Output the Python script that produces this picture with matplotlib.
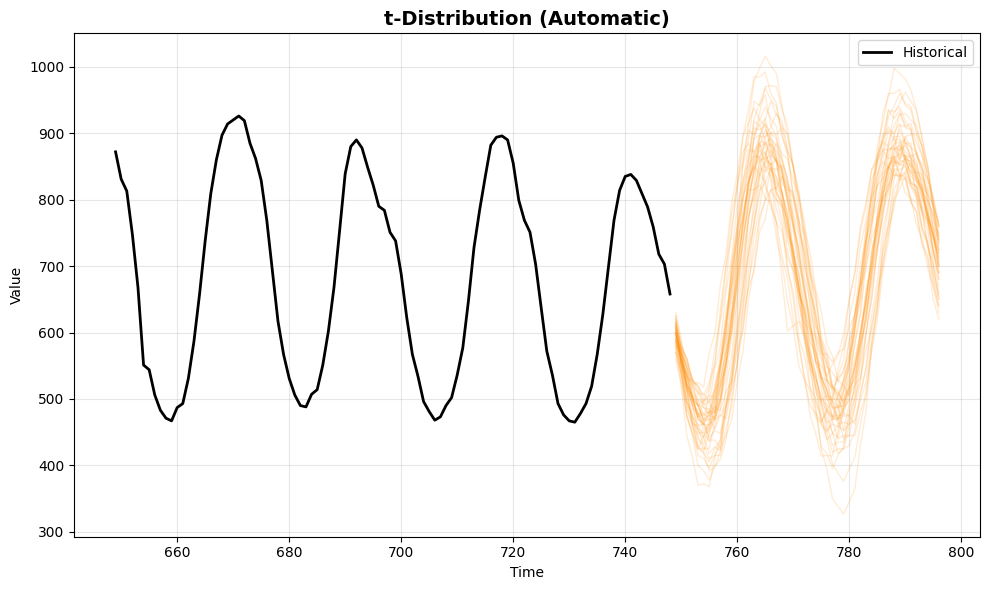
import numpy as np
import matplotlib
matplotlib.use("Agg")
import matplotlib.pyplot as plt

hist_start = 649
hist_values = [
    872, 831, 813, 748, 668, 551, 544, 506, 483, 471, 467,
    487, 493, 531, 587, 658, 738, 809, 860, 897, 914,
    920, 926, 919, 885, 862, 829, 769, 693, 617, 567,
    531, 506, 490, 488, 507, 514, 551, 602, 668, 753,
    839, 880, 890, 878, 849, 822, 790, 784, 751, 738,
    688, 622, 567, 534, 496, 481, 468, 473, 490, 502,
    536, 577, 647, 728, 784, 834, 882, 894, 896, 890,
    855, 799, 769, 751, 703, 637, 572, 536, 493, 476,
    467, 465, 478, 493, 519, 567, 627, 698, 769, 814,
    835, 838, 829, 809, 789, 759, 718, 703, 658,
]

forecast_start = 749
sample_paths = [
    [600,564,532,499,480,462,461,470,500,552,606,676, 733,799,840,880,884,883,858,836,798,760,706,664,
     610,572,534,512,487,487,491,519,547,600,648,707, 755,808,836,864,868,867,851,838,806,783,744,714],
    [615,552,512,458,445,422,448,475,548,602,700,758, 850,890,948,942,958,912,895,838,800,722,685,602,
     568,510,495,452,462,458,500,528,605,650,740,785, 862,890,935,922,935,908,905,865,852,798,778,730],
    [580,545,496,470,430,418,392,398,410,438,500,552, 635,690,768,808,858,852,862,825,812,760,725,660,
     620,555,518,470,450,418,425,430,452,505,548,625, 676,755,795,850,862,885,868,858,818,785,725,680],
    [620,575,515,496,472,495,518,575,622,700,748,825, 855,905,898,912,890,860,812,785,722,690,622,598,
     545,532,498,505,502,535,560,620,662,730,770,830, 852,888,880,895,862,866,825,808,758,738,678,640],
    [595,568,552,520,510,486,485,468,476,470,515,550, 622,668,745,788,845,865,885,868,862,828,808,755,
     722,665,632,582,565,528,520,505,522,532,575,605, 662,700,758,788,830,840,855,842,838,808,792,760],
    [610,555,520,472,462,442,468,490,552,605,702,765, 858,912,978,998,1016,1002,990,940,895,848,768,718,
     638,592,532,512,470,468,488,498,552,585,662,705, 782,820,872,882,905,885,885,842,830,776,750,700],
    [590,552,535,498,490,468,475,472,518,548,622,668, 745,788,845,865,885,868,858,810,782,718,670,598,
     548,488,425,395,350,338,327,345,365,430,482,578, 640,735,788,852,872,895,878,872,835,812,758,720],
    [605,560,535,492,480,452,462,475,500,568,618,708, 758,828,852,875,860,855,812,795,738,705,645,612,
     555,538,498,492,472,492,508,565,598,680,732,815, 860,930,955,998,990,982,965,935,895,850,790,740],
    [575,518,445,412,370,372,368,412,440,518,565,652, 700,775,805,848,842,855,818,808,755,728,665,632,
     570,540,495,482,448,460,452,492,512,578,618,692, 735,798,820,858,852,862,835,828,788,770,722,690],
    [625,580,555,522,525,518,570,598,672,718,795,838, 895,915,938,920,912,872,855,798,765,705,672,615,
     598,556,550,535,552,565,598,650,688,752,790,845, 865,898,902,890,890,858,850,802,782,728,700,650],
    [585,568,532,528,498,495,478,488,482,512,525,575, 602,668,692,752,770,815,818,835,815,812,768,748,
     690,658,592,572,518,502,478,475,462,510,545,610, 652,725,762,815,835,858,842,840,812,798,760,740],
    [600,560,538,502,490,470,476,480,528,572,652,718, 798,842,892,898,880,830,760,680,602,610,617,590,
     560,530,505,485,474,470,485,498,548,585,652,698, 768,805,852,868,885,872,865,835,818,770,745,700],
    [608,550,515,465,455,432,458,482,548,598,690,742, 828,862,918,912,922,885,865,810,775,698,660,585,
     550,495,475,438,448,442,485,512,585,632,718,765, 838,862,905,900,915,885,880,838,820,765,740,690],
    [592,560,512,490,452,442,418,428,422,478,522,610, 672,768,822,895,922,948,928,918,875,852,790,752,
     688,648,585,565,518,512,492,518,528,582,628,680, 752,800,862,895,928,930,920,912,878,850,798,760],
    [615,580,562,528,520,498,505,502,552,590,668,722, 808,855,922,945,968,950,940,895,872,808,770,700,
     660,598,575,530,520,505,522,548,608,655,732,782, 858,890,935,932,940,918,908,872,850,800,775,725],
    [570,535,485,462,425,420,405,425,438,490,528,602, 648,722,760,815,825,848,825,812,758,718,645,598,
     520,485,428,418,395,415,428,482,520,598,642,722, 755,812,822,845,830,832,802,795,752,735,690,660],
    [630,592,540,522,490,498,495,545,580,662,712,792, 825,875,872,885,848,835,785,758,692,662,592,565,
     515,502,465,482,470,508,528,590,628,702,738,802, 822,858,848,862,835,838,798,782,730,712,650,620],
    [600,568,522,502,468,462,452,470,495,552,600,680, 732,805,842,888,885,892,860,842,798,765,705,670,
     608,575,532,515,485,490,488,522,548,605,650,718, 760,818,845,878,875,882,862,855,822,808,770,745],
    [585,560,520,505,470,465,442,452,448,488,518,585, 635,715,765,835,862,902,898,908,872,852,802,768,
     700,660,590,555,508,488,452,462,468,498,525,590, 640,718,765,830,858,895,898,898,865,842,785,745],
    [612,575,522,502,472,478,472,515,548,612,660,730, 772,828,848,865,850,845,810,795,745,718,662,635,
     585,570,532,528,515,532,540,585,612,672,708,768, 795,840,848,865,852,852,825,820,782,768,725,700],
    [598,572,535,518,490,488,476,498,522,585,632,716, 780,818,865,865,872,845,835,792,770,715,688,630,
     602,556,538,503,498,486,502,516,560,596,662,704, 770,805,850,862,880,866,862,832,815,772,748,705],
    [620,552,508,462,460,462,512,555,636,700,780,822, 872,885,870,860,820,800,742,706,645,608,550,528,
     490,478,465,484,498,545,580,648,692,760,796,845, 858,875,862,865,838,832,796,782,736,716,670,640],
    [588,555,538,505,492,468,470,455,475,492,545,590, 668,718,798,840,895,910,930,910,898,848,815,746,
     700,625,582,524,498,462,465,462,502,530,598,650, 725,776,845,872,912,910,915,885,868,818,788,735],
    [605,555,490,460,425,426,425,465,498,565,620,700, 755,825,858,895,895,900,866,845,795,756,688,642,
     575,535,486,462,430,435,435,472,502,570,622,698, 750,818,848,885,886,890,862,850,804,776,720,680],
    [595,575,545,532,508,508,495,512,526,572,605,668, 712,776,810,856,868,885,872,862,825,806,752,718,
     662,628,575,554,518,508,496,512,532,582,620,686, 728,790,818,858,855,862,840,832,800,782,742,715],
    [580,542,495,476,448,450,450,498,538,615,672,752, 818,858,908,905,912,878,858,810,775,708,668,600,
     565,518,496,464,470,470,515,552,625,680,758,808, 866,890,910,895,895,866,852,810,786,734,702,655],
    [610,570,548,510,498,475,480,480,520,555,628,685, 765,825,895,930,970,972,970,936,910,850,805,732,
     682,612,578,528,515,496,512,532,582,626,702,752, 830,872,925,940,960,945,940,905,882,832,800,750],
    [590,562,524,505,470,462,438,438,425,445,468,525, 570,648,698,768,802,848,845,852,820,802,758,725,
     665,628,565,532,488,470,440,445,445,480,508,572, 618,692,738,802,830,866,865,870,845,832,792,765],
    [600,552,525,486,478,460,482,505,566,615,695,745, 805,828,850,838,828,788,768,715,680,620,586,530,
     512,472,462,450,468,482,528,562,630,672,738,774, 820,832,850,836,838,810,802,762,742,698,670,630],
    [582,535,476,445,400,392,378,398,422,490,545,630, 688,770,812,860,862,866,832,812,765,728,662,622,
     556,518,472,450,420,425,425,460,488,552,600,670, 720,782,810,846,845,850,828,820,782,764,720,690],
    [625,582,560,528,520,505,525,552,618,672,758,815, 895,935,985,985,992,960,945,898,866,805,765,702,
     665,612,585,548,540,526,545,568,628,676,755,806, 880,915,960,960,966,942,935,900,880,832,805,760],
    [570,540,496,476,440,430,410,415,415,455,490,556, 605,676,720,776,798,815,800,790,748,725,668,626,
     562,522,466,440,402,388,376,395,412,462,506,580, 632,706,748,800,816,835,820,812,778,755,706,670],
    [603,566,518,492,456,448,436,456,486,550,608,694, 768,826,892,920,940,922,910,862,830,766,720,652,
     610,556,530,498,500,500,530,556,612,656,720,762, 820,845,878,875,882,862,858,828,815,776,756,720],
    [588,558,516,500,476,480,480,522,556,622,672,740, 772,815,815,822,802,796,765,752,712,695,655,638,
     603,594,568,568,556,570,575,608,625,670,695,742, 765,802,815,838,835,842,824,820,790,778,745,725],
    [616,572,546,504,490,465,470,470,515,552,628,682, 760,812,872,895,915,900,892,856,832,780,745,684,
     648,588,560,512,496,470,474,475,522,560,636,692, 772,822,886,910,930,912,906,868,845,790,755,700],
    [596,538,472,448,425,444,460,512,556,630,680,756, 798,850,866,885,866,852,802,768,700,650,580,535,
     476,448,414,415,414,452,486,552,606,684,738,806, 836,876,875,880,860,855,820,802,760,732,684,650],
    [560,525,475,450,415,410,396,415,432,488,530,608, 662,740,785,838,856,875,856,848,805,776,716,676,
     612,576,525,502,474,475,476,510,538,600,645,720, 772,842,882,930,945,962,948,935,890,852,790,735],
    [608,576,560,528,516,492,494,480,502,530,595,648, 738,790,856,882,905,890,882,842,818,765,728,664,
     626,562,532,485,466,440,445,445,488,525,598,650, 726,775,832,856,875,860,858,830,812,774,748,710],
]

hist_time = np.arange(hist_start, hist_start + len(hist_values))

fig, ax = plt.subplots(figsize=(10, 6), dpi=100)
ax.plot(hist_time, hist_values, color="black", linewidth=2, label="Historical")
for path in sample_paths:
    t = np.arange(forecast_start, forecast_start + len(path))
    ax.plot(t, path, color="darkorange", alpha=0.16, linewidth=1.0)

ax.set_title("t-Distribution (Automatic)", fontsize=14, fontweight="bold")
ax.set_xlabel("Time")
ax.set_ylabel("Value")
ax.grid(True, alpha=0.3)
ax.legend(loc="upper right")
fig.tight_layout()
fig.savefig("out.png", dpi=100, bbox_inches="tight")
